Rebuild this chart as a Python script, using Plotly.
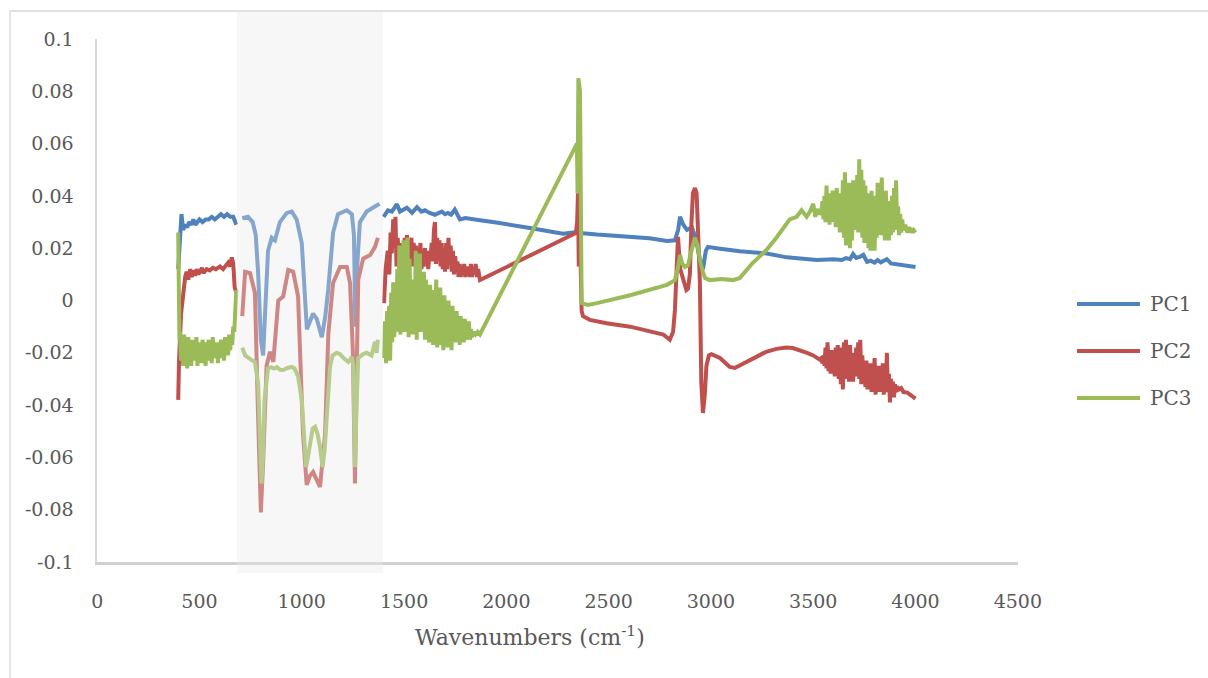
import plotly.graph_objects as go

# ---- spectral loadings as (wavenumber cm-1, loading) pairs; None marks a gap in the record ----
pc1_points = [
    (396, 0.012), (400, 0.018), (405, 0.026), (412, 0.033), (420, 0.027), (430, 0.029), (440, 0.028),
    (450, 0.030), (460, 0.029), (470, 0.031), (480, 0.029), (490, 0.030), (500, 0.031), (515, 0.030),
    (530, 0.031), (545, 0.031), (560, 0.032), (575, 0.031), (590, 0.032), (605, 0.033), (620, 0.032),
    (635, 0.033), (650, 0.032), (665, 0.032), (680, 0.029), (690, None),
    (709, 0.0315), (737, 0.032), (760, 0.030), (775, 0.025), (787, 0.010), (800, -0.015), (811, -0.021),
    (822, -0.005), (835, 0.019), (853, 0.024), (869, 0.023), (893, 0.030), (927, 0.0335), (951, 0.034),
    (975, 0.031), (1000, 0.022), (1012, 0.008), (1025, -0.011), (1040, -0.008), (1055, -0.005),
    (1073, -0.007), (1098, -0.014), (1115, -0.006), (1129, 0.004), (1153, 0.026), (1177, 0.033),
    (1220, 0.0345), (1245, 0.033), (1255, 0.025), (1262, -0.010), (1270, 0.012), (1284, 0.030),
    (1317, 0.034), (1366, 0.0365), (1380, 0.037), (1390, None),
    (1400, 0.032), (1421, 0.0345), (1440, 0.034), (1465, 0.0368), (1480, 0.034), (1495, 0.0345),
    (1514, 0.0355), (1539, 0.0335), (1563, 0.0357), (1585, 0.034), (1602, 0.0345), (1625, 0.0335),
    (1651, 0.0328), (1670, 0.0335), (1685, 0.034), (1700, 0.033), (1714, 0.0335), (1730, 0.0328),
    (1748, 0.0348), (1773, 0.031), (1800, 0.0315), (1846, 0.031), (1900, 0.0305), (1959, 0.0297),
    (2115, 0.0277), (2277, 0.0255), (2345, 0.0262), (2360, 0.0258), (2443, 0.0252), (2605, 0.0245),
    (2700, 0.0238), (2785, 0.0228), (2824, 0.023), (2840, 0.027), (2849, 0.032), (2865, 0.029),
    (2883, 0.027), (2907, 0.028), (2925, 0.024), (2945, 0.016), (2961, 0.012), (2975, 0.019),
    (2985, 0.0205), (3027, 0.020), (3141, 0.0188), (3273, 0.018), (3371, 0.0165), (3450, 0.016),
    (3518, 0.0155), (3600, 0.0158), (3640, 0.0155), (3660, 0.0162), (3680, 0.0158), (3695, 0.0178),
    (3710, 0.0163), (3730, 0.0168), (3745, 0.0175), (3763, 0.0148), (3780, 0.0152), (3800, 0.0145),
    (3815, 0.0155), (3830, 0.0146), (3845, 0.0152), (3860, 0.0158), (3880, 0.0142), (3900, 0.014),
    (3930, 0.0136), (3960, 0.0133), (4000, 0.0128),
]

pc2_points = [
    (396, -0.038), (400, -0.023), (410, -0.005), (420, 0.004), (430, 0.009), (437, 0.011), (445, 0.008),
    (455, 0.012), (462, 0.009), (470, 0.0115), (478, 0.0095), (486, 0.012), (495, 0.010), (502, 0.011),
    (512, 0.0125), (520, 0.0105), (535, 0.012), (550, 0.0115), (566, 0.0125), (580, 0.012), (600, 0.013),
    (615, 0.012), (630, 0.0135), (640, 0.0145), (650, 0.013), (658, 0.0165), (665, 0.014), (672, 0.005),
    (680, 0.003), (690, None),
    (709, -0.006), (716, 0.006), (723, 0.011), (747, 0.0105), (771, 0.003), (785, -0.040), (800, -0.081),
    (812, -0.060), (828, -0.025), (845, -0.0196), (861, -0.0235), (885, 0.0), (909, 0.0015),
    (934, 0.0117), (958, 0.011), (982, 0.0015), (1006, -0.051), (1024, -0.0705), (1040, -0.067),
    (1055, -0.0656), (1070, -0.068), (1089, -0.0713), (1114, -0.051), (1130, -0.0125), (1153, 0.0067),
    (1187, 0.0128), (1220, 0.0128), (1236, 0.0067), (1250, -0.020), (1260, -0.070), (1268, -0.030),
    (1276, 0.008), (1300, 0.016), (1334, 0.0174), (1358, 0.0205), (1372, 0.024), (1385, None),
    (1402, -0.001), (1410, 0.012), (1420, 0.019), (1428, 0.010), (1434, 0.026), (1440, 0.018),
    (1447, 0.031), (1452, 0.020), (1458, 0.032), (1463, 0.013), (1469, 0.024), (1474, 0.016),
    (1480, 0.022), (1486, 0.012), (1492, 0.020), (1497, 0.014), (1503, 0.024), (1508, 0.016),
    (1514, 0.025), (1519, 0.014), (1525, 0.023), (1530, 0.017), (1536, 0.024), (1541, 0.013),
    (1547, 0.022), (1552, 0.015), (1558, 0.021), (1563, 0.012), (1569, 0.020), (1574, 0.015),
    (1580, 0.022), (1585, 0.012), (1591, 0.018), (1596, 0.013), (1602, 0.020), (1607, 0.014),
    (1613, 0.019), (1618, 0.012), (1624, 0.018), (1629, 0.016), (1635, 0.022), (1640, 0.015),
    (1646, 0.027), (1651, 0.030), (1656, 0.014), (1662, 0.024), (1667, 0.016), (1673, 0.023),
    (1678, 0.013), (1684, 0.022), (1689, 0.012), (1695, 0.020), (1700, 0.011), (1706, 0.022),
    (1711, 0.012), (1717, 0.024), (1722, 0.014), (1728, 0.021), (1733, 0.011), (1739, 0.019),
    (1744, 0.010), (1750, 0.017), (1755, 0.012), (1761, 0.015), (1766, 0.009), (1772, 0.014),
    (1777, 0.009), (1783, 0.013), (1788, 0.010), (1794, 0.014), (1799, 0.009), (1805, 0.013),
    (1810, 0.010), (1816, 0.012), (1821, 0.009), (1827, 0.014), (1832, 0.009), (1838, 0.012),
    (1844, 0.010), (1850, 0.014), (1856, 0.009), (1862, 0.012), (1871, 0.0078),
    (2340, 0.0258), (2346, 0.030), (2350, 0.041), (2354, 0.013), (2360, 0.025), (2368, -0.004),
    (2375, -0.006), (2408, -0.0074), (2490, -0.0087), (2605, -0.010), (2703, -0.012), (2767, -0.013),
    (2799, -0.015), (2815, -0.012), (2824, -0.0036), (2832, 0.012), (2839, 0.0243), (2850, 0.012),
    (2864, 0.0078), (2880, 0.004), (2888, 0.0045), (2897, 0.010), (2905, 0.030), (2912, 0.041),
    (2922, 0.043), (2930, 0.041), (2940, 0.020), (2946, 0.0067), (2953, -0.0316), (2961, -0.043),
    (2970, -0.036), (2978, -0.025), (2990, -0.021), (3003, -0.0205), (3044, -0.022), (3092, -0.0254),
    (3117, -0.0258), (3150, -0.0245), (3190, -0.0228), (3230, -0.021), (3270, -0.0196),
    (3320, -0.0185), (3369, -0.018), (3400, -0.0182), (3434, -0.019), (3470, -0.020), (3500, -0.021),
    (3530, -0.0225), (3540, -0.022), (3545, -0.024), (3550, -0.021), (3555, -0.025), (3560, -0.018),
    (3565, -0.026), (3570, -0.016), (3575, -0.027), (3580, -0.020), (3585, -0.028), (3590, -0.019),
    (3595, -0.026), (3600, -0.021), (3605, -0.029), (3610, -0.018), (3615, -0.027), (3620, -0.017),
    (3625, -0.030), (3630, -0.018), (3635, -0.032), (3640, -0.020), (3645, -0.034), (3650, -0.016),
    (3655, -0.030), (3660, -0.015), (3665, -0.029), (3670, -0.019), (3675, -0.031), (3680, -0.017),
    (3685, -0.028), (3690, -0.021), (3695, -0.031), (3700, -0.020), (3705, -0.029), (3710, -0.018),
    (3715, -0.027), (3720, -0.016), (3725, -0.030), (3730, -0.015), (3735, -0.032), (3740, -0.021),
    (3745, -0.031), (3750, -0.024), (3755, -0.033), (3760, -0.023), (3765, -0.034), (3770, -0.026),
    (3775, -0.032), (3780, -0.024), (3785, -0.035), (3790, -0.025), (3795, -0.031), (3800, -0.022),
    (3805, -0.036), (3810, -0.026), (3815, -0.033), (3820, -0.025), (3825, -0.035), (3830, -0.026),
    (3835, -0.034), (3840, -0.024), (3845, -0.036), (3850, -0.026), (3855, -0.034), (3860, -0.020),
    (3865, -0.035), (3870, -0.028), (3875, -0.039), (3880, -0.030), (3885, -0.036), (3890, -0.031),
    (3895, -0.037), (3900, -0.032), (3905, -0.035), (3910, -0.033), (3920, -0.034), (3930, -0.0335),
    (3941, -0.035), (3960, -0.0352), (3973, -0.036), (3990, -0.037), (4000, -0.0375),
]

pc3_points = [
    (396, 0.026), (399, 0.010), (402, -0.015), (405, -0.012), (410, -0.023), (415, -0.014), (420, -0.025),
    (425, -0.013), (430, -0.022), (435, -0.015), (440, -0.026), (445, -0.014), (450, -0.021),
    (455, -0.016), (460, -0.025), (465, -0.015), (470, -0.023), (475, -0.017), (480, -0.022),
    (485, -0.014), (490, -0.025), (495, -0.016), (500, -0.021), (505, -0.017), (510, -0.024),
    (515, -0.015), (520, -0.022), (525, -0.018), (530, -0.025), (535, -0.016), (540, -0.021),
    (545, -0.015), (550, -0.023), (555, -0.017), (560, -0.024), (565, -0.014), (570, -0.022),
    (575, -0.018), (580, -0.021), (585, -0.016), (590, -0.024), (595, -0.017), (600, -0.022),
    (605, -0.015), (610, -0.021), (615, -0.017), (620, -0.023), (625, -0.014), (630, -0.020),
    (635, -0.016), (640, -0.021), (645, -0.013), (650, -0.019), (655, -0.014), (660, -0.017),
    (665, -0.010), (670, -0.012), (675, -0.006), (680, 0.004), (690, None),
    (709, -0.018), (723, -0.021), (750, -0.0225), (771, -0.0235), (787, -0.032), (796, -0.055),
    (803, -0.070), (810, -0.060), (818, -0.038), (835, -0.026), (850, -0.0255), (865, -0.026),
    (878, -0.0255), (895, -0.0265), (909, -0.0266), (930, -0.0258), (951, -0.0254), (965, -0.026),
    (982, -0.029), (1000, -0.038), (1010, -0.052), (1021, -0.0637), (1030, -0.060), (1040, -0.0545),
    (1053, -0.049), (1065, -0.0483), (1077, -0.051), (1089, -0.056), (1102, -0.0637), (1112, -0.057),
    (1122, -0.0445), (1138, -0.0254), (1150, -0.021), (1171, -0.020), (1187, -0.0205), (1204, -0.022),
    (1228, -0.0235), (1245, -0.0216), (1252, -0.025), (1260, -0.0637), (1268, -0.040), (1276, -0.022),
    (1300, -0.0205), (1317, -0.020), (1341, -0.021), (1358, -0.0158), (1366, -0.020), (1372, -0.015),
    (1385, None),
    (1402, -0.022), (1407, -0.008), (1412, -0.024), (1417, -0.004), (1422, -0.020), (1427, -0.002),
    (1432, -0.023), (1437, 0.003), (1442, -0.016), (1447, 0.007), (1452, -0.014), (1457, 0.002),
    (1462, -0.012), (1467, 0.012), (1472, -0.010), (1477, 0.021), (1482, -0.013), (1487, 0.018),
    (1492, -0.006), (1497, 0.023), (1502, -0.012), (1507, 0.010), (1512, -0.008), (1517, 0.024),
    (1522, -0.014), (1527, 0.016), (1532, -0.010), (1537, 0.008), (1542, -0.013), (1547, 0.004),
    (1552, -0.009), (1557, 0.019), (1562, -0.015), (1567, 0.012), (1572, -0.008), (1577, 0.018),
    (1582, -0.012), (1587, 0.006), (1592, -0.010), (1597, 0.011), (1602, -0.015), (1607, 0.008),
    (1612, -0.012), (1617, 0.003), (1622, -0.016), (1627, 0.006), (1632, -0.011), (1637, 0.0),
    (1642, -0.017), (1647, 0.004), (1652, -0.013), (1657, 0.008), (1662, -0.018), (1667, -0.002),
    (1672, -0.012), (1677, 0.005), (1682, -0.017), (1687, -0.004), (1692, -0.019), (1697, 0.002),
    (1702, -0.014), (1707, -0.003), (1712, -0.018), (1717, 0.0), (1722, -0.013), (1727, -0.006),
    (1732, -0.019), (1737, -0.002), (1742, -0.015), (1747, -0.005), (1752, -0.016), (1757, -0.004),
    (1762, -0.014), (1767, -0.008), (1772, -0.017), (1777, -0.006), (1782, -0.014), (1787, -0.009),
    (1792, -0.016), (1797, -0.007), (1802, -0.015), (1807, -0.010), (1812, -0.014), (1817, -0.008),
    (1822, -0.015), (1827, -0.011), (1832, -0.014), (1840, -0.012), (1850, -0.013), (1860, -0.012),
    (1871, -0.013),
    (2345, 0.060), (2348, 0.041), (2352, 0.085), (2360, 0.080), (2368, -0.001), (2398, -0.0017),
    (2443, -0.001), (2605, 0.002), (2700, 0.004), (2785, 0.006), (2824, 0.0078), (2838, 0.012),
    (2849, 0.0174), (2860, 0.014), (2873, 0.0128), (2888, 0.0135), (2905, 0.019), (2922, 0.024),
    (2935, 0.021), (2946, 0.0155), (2960, 0.011), (2971, 0.0086), (2995, 0.0078), (3050, 0.0082),
    (3108, 0.0078), (3141, 0.0086), (3200, 0.014), (3271, 0.0193), (3320, 0.024), (3362, 0.0282),
    (3385, 0.031), (3419, 0.032), (3443, 0.0345), (3468, 0.032), (3484, 0.034), (3500, 0.037),
    (3510, 0.032), (3520, 0.035), (3530, 0.033), (3540, 0.034), (3545, 0.038), (3550, 0.031),
    (3555, 0.040), (3560, 0.030), (3565, 0.044), (3570, 0.031), (3575, 0.038), (3580, 0.029),
    (3585, 0.041), (3590, 0.032), (3595, 0.042), (3600, 0.030), (3605, 0.039), (3610, 0.028),
    (3615, 0.043), (3620, 0.030), (3625, 0.037), (3630, 0.026), (3635, 0.041), (3640, 0.028),
    (3645, 0.046), (3650, 0.024), (3655, 0.049), (3660, 0.021), (3665, 0.040), (3670, 0.025),
    (3675, 0.045), (3680, 0.020), (3685, 0.042), (3690, 0.023), (3695, 0.046), (3700, 0.027),
    (3705, 0.040), (3710, 0.028), (3715, 0.048), (3720, 0.026), (3725, 0.054), (3730, 0.029),
    (3735, 0.050), (3740, 0.024), (3745, 0.046), (3750, 0.022), (3755, 0.044), (3760, 0.025),
    (3765, 0.041), (3770, 0.020), (3775, 0.038), (3780, 0.019), (3785, 0.042), (3790, 0.022),
    (3795, 0.040), (3800, 0.019), (3805, 0.036), (3810, 0.024), (3815, 0.045), (3820, 0.026),
    (3825, 0.043), (3830, 0.025), (3835, 0.047), (3840, 0.027), (3845, 0.040), (3850, 0.023),
    (3855, 0.042), (3860, 0.026), (3865, 0.038), (3870, 0.023), (3875, 0.036), (3880, 0.025),
    (3885, 0.040), (3890, 0.026), (3895, 0.043), (3900, 0.028), (3905, 0.046), (3910, 0.027),
    (3915, 0.036), (3920, 0.025), (3925, 0.033), (3930, 0.026), (3935, 0.031), (3940, 0.027),
    (3950, 0.029), (3960, 0.026), (3970, 0.028), (3980, 0.026), (3990, 0.027), (4000, 0.026),
]

series_names = ["PC1", "PC2", "PC3"]
series_colors = ["#4F81BD", "#C0504D", "#9BBB59"]

x_ticks = [0, 500, 1000, 1500, 2000, 2500, 3000, 3500, 4000, 4500]
x_tick_text = ["0", "500", "1000", "1500", "2000", "2500", "3000", "3500", "4000", "4500"]
y_ticks = [0.1, 0.08, 0.06, 0.04, 0.02, 0, -0.02, -0.04, -0.06, -0.08, -0.1]
y_tick_text = ["0.1", "0.08", "0.06", "0.04", "0.02", "0", "-0.02", "-0.04", "-0.06", "-0.08", "-0.1"]

# fingerprint band highlighted with a translucent panel
band_start, band_end = 683, 1397

# ---- page geometry (pixels) ----
W, H = 1208, 678
plot_left, plot_right = 97.2, 1017.8
plot_top, plot_bottom = 39, 562
FONT = "DejaVu Serif"
TEXT_GREY = "#595959"


def px_x(p):
    return p / W


def px_y(p):
    return 1 - p / H


fig = go.Figure()
for pts, name, color in zip([pc1_points, pc2_points, pc3_points], series_names, series_colors):
    xs = [p[0] for p in pts]
    ys = [p[1] for p in pts]
    fig.add_trace(go.Scatter(x=xs, y=ys, name=name, mode="lines",
                             line=dict(color=color, width=4), showlegend=False,
                             connectgaps=False))

shapes = [
    # outer chart frame
    dict(type="rect", xref="paper", yref="paper", x0=px_x(10), x1=1.2, y0=-0.2, y1=px_y(11),
         line=dict(color="#d9d9d9", width=1.3), fillcolor="rgba(0,0,0,0)", layer="below"),
    # highlighted band
    dict(type="rect", xref="x", yref="paper", x0=band_start, x1=band_end,
         y0=px_y(573), y1=px_y(12), line=dict(width=0),
         fillcolor="#e8e8e8", opacity=0.36, layer="above"),
]

annotations = [
    dict(xref="paper", yref="paper", x=px_x(530), y=px_y(636),
         text="Wavenumbers (cm<sup>-1</sup>)", showarrow=False, xanchor="center", yanchor="middle",
         font=dict(family=FONT, size=22, color=TEXT_GREY)),
]
legend_rows = [304, 351, 398]
for name, color, row in zip(series_names, series_colors, legend_rows):
    shapes.append(dict(type="line", xref="paper", yref="paper", x0=px_x(1077), x1=px_x(1140),
                       y0=px_y(row), y1=px_y(row), line=dict(color=color, width=4)))
    annotations.append(dict(xref="paper", yref="paper", x=px_x(1148), y=px_y(row), text=name,
                            showarrow=False, xanchor="left", yanchor="middle",
                            font=dict(family=FONT, size=20, color=TEXT_GREY)))

fig.update_layout(
    width=W, height=H,
    margin=dict(l=0, r=0, t=0, b=0),
    paper_bgcolor="white", plot_bgcolor="white",
    shapes=shapes, annotations=annotations,
    showlegend=False,
    xaxis=dict(domain=[px_x(plot_left), px_x(plot_right)], range=[0, 4500],
               showline=True, linecolor="#d0d0d0", linewidth=2.5, showgrid=False, zeroline=False,
               ticks="", tickvals=x_ticks, ticktext=x_tick_text, ticklabelstandoff=20,
               tickfont=dict(family=FONT, size=19, color=TEXT_GREY), automargin=False),
    yaxis=dict(domain=[px_y(plot_bottom), px_y(plot_top)], range=[-0.1, 0.1],
               showline=True, linecolor="#d9d9d9", linewidth=1.5, showgrid=False, zeroline=False,
               ticks="", tickvals=y_ticks, ticktext=y_tick_text, ticklabelstandoff=18,
               tickfont=dict(family=FONT, size=19, color=TEXT_GREY), automargin=False),
)

fig.write_html("out.html")
